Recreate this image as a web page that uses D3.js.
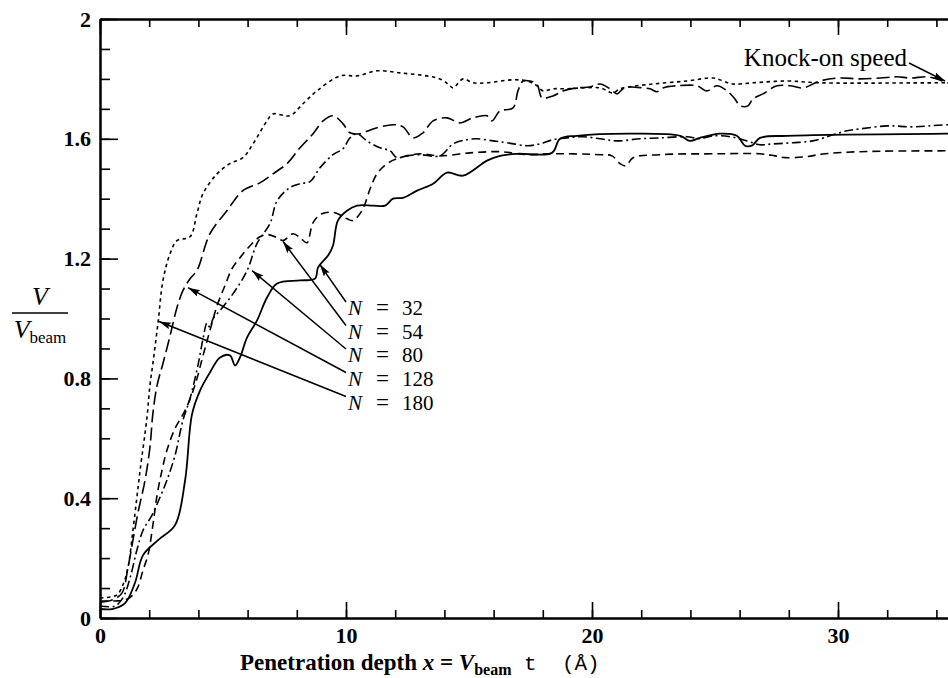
<!DOCTYPE html>
<html><head><meta charset="utf-8">
<script src="https://cdn.jsdelivr.net/npm/d3@7"></script>
<style>body{margin:0;background:#fff}svg{display:block}</style>
</head><body><svg id="c" width="948" height="678"></svg>
<script>
// ---------- data ----------
const xMajorTicks = [0, 10, 20, 30, 40];
const xTickLabels = ["0", "10", "20", "30", ""];
const xMinorTicks = [0,2,4,6,8,10,12,14,16,18,20,22,24,26,28,30,32,34,36,38,40];
const yMajorTicks = [0, 0.4, 0.8, 1.2, 1.6, 2];
const yTickLabels = ["0", "0.4", "0.8", "1.2", "1.6", "2"];
const yMinorTicks = [0,0.1,0.2,0.3,0.4,0.5,0.6,0.7,0.8,0.9,1,1.1,1.2,1.3,1.4,1.5,1.6,1.7,1.8,1.9,2];
const seriesLabels = ["32", "54", "80", "128", "180"];

const n32 = [[0,0.03],[0.49,0.03],[1.02,0.05],[1.42,0.117],[1.75,0.21],[2.36,0.26],[3.05,0.31],[3.46,0.46],[3.74,0.68],[4.07,0.76],[4.47,0.82],[4.88,0.87],[5.28,0.877],[5.49,0.843],[5.69,0.87],[5.98,0.937],[6.38,0.993],[6.79,1.07],[7.2,1.117],[8.13,1.127],[8.74,1.133],[8.86,1.17],[9.02,1.187],[9.27,1.21],[9.47,1.243],[9.67,1.327],[10.04,1.36],[10.45,1.377],[11.1,1.377],[11.59,1.377],[11.91,1.4],[12.32,1.403],[12.89,1.427],[13.54,1.45],[14.11,1.487],[14.76,1.477],[15.73,1.527],[16.26,1.543],[16.95,1.55],[18.37,1.553],[18.7,1.6],[19.39,1.61],[21.54,1.617],[23.58,1.61],[23.98,1.593],[24.39,1.603],[25.2,1.617],[25.89,1.61],[26.22,1.577],[26.5,1.577],[26.83,1.603],[27.93,1.61],[34.47,1.617],[40,1.617]];

const n54 = [[0,0.057],[0.61,0.057],[1.02,0.06],[1.34,0.077],[1.54,0.103],[1.75,0.16],[1.95,0.21],[2.15,0.31],[2.32,0.41],[2.52,0.493],[2.72,0.56],[3.05,0.633],[3.46,0.693],[3.86,0.777],[4.19,0.877],[4.47,0.96],[4.76,1.043],[5.08,1.11],[5.37,1.167],[5.69,1.203],[6.1,1.243],[6.5,1.273],[6.83,1.28],[7.2,1.27],[7.44,1.26],[7.85,1.283],[8.13,1.27],[8.41,1.253],[8.66,1.32],[9.02,1.35],[9.55,1.353],[10.04,1.333],[10.28,1.327],[10.65,1.36],[10.98,1.433],[11.26,1.483],[11.67,1.517],[12.2,1.537],[13.01,1.55],[13.82,1.543],[15.04,1.553],[16.26,1.557],[17.36,1.547],[18.29,1.55],[20.33,1.547],[20.81,1.543],[21.14,1.517],[21.38,1.51],[21.67,1.537],[22.76,1.547],[25.2,1.55],[26.83,1.55],[27.44,1.543],[27.85,1.537],[28.66,1.54],[29.47,1.55],[30.89,1.557],[34.47,1.56],[40,1.56]];

const n80 = [[0,0.04],[0.61,0.04],[0.93,0.067],[1.22,0.133],[1.5,0.227],[1.75,0.293],[2.11,0.343],[2.44,0.403],[2.72,0.46],[3.05,0.543],[3.37,0.66],[3.66,0.733],[3.98,0.843],[4.19,0.933],[4.35,0.985],[4.47,0.97],[4.6,1.0],[4.88,1.027],[5.41,1.083],[5.98,1.16],[6.38,1.25],[6.91,1.317],[7.2,1.393],[7.72,1.437],[8.13,1.45],[8.54,1.457],[8.94,1.503],[9.47,1.547],[9.88,1.567],[10.16,1.603],[10.45,1.617],[10.85,1.593],[11.38,1.57],[11.79,1.56],[12.07,1.537],[12.48,1.543],[13.01,1.547],[13.82,1.543],[14.35,1.583],[14.92,1.597],[15.33,1.6],[15.98,1.593],[16.54,1.587],[17.36,1.577],[17.89,1.583],[18.41,1.597],[18.98,1.603],[19.63,1.607],[20.33,1.6],[21.02,1.593],[21.95,1.6],[22.76,1.603],[23.86,1.607],[24.39,1.6],[24.92,1.61],[25.61,1.607],[26.3,1.593],[26.83,1.58],[27.36,1.583],[28.17,1.587],[28.98,1.593],[29.67,1.61],[30.37,1.627],[30.89,1.633],[31.99,1.643],[33.05,1.64],[34.47,1.647],[40,1.65]];

const n128 = [[0,0.053],[0.49,0.06],[0.89,0.083],[1.14,0.17],[1.34,0.26],[1.54,0.35],[1.83,0.46],[2.03,0.57],[2.15,0.683],[2.32,0.777],[2.56,0.85],[2.85,0.943],[3.13,1.037],[3.37,1.093],[3.66,1.133],[3.94,1.16],[4.47,1.283],[5.16,1.36],[5.81,1.427],[6.5,1.453],[7.03,1.483],[7.6,1.517],[8.13,1.57],[8.66,1.617],[9.07,1.66],[9.47,1.677],[9.88,1.65],[10.16,1.62],[10.57,1.617],[11.1,1.633],[11.91,1.647],[12.32,1.64],[12.72,1.603],[13.13,1.62],[13.54,1.66],[14.11,1.67],[14.63,1.653],[15.16,1.67],[15.73,1.677],[15.93,1.66],[16.26,1.693],[16.79,1.703],[16.99,1.76],[17.2,1.793],[17.48,1.793],[17.76,1.783],[17.97,1.737],[18.41,1.743],[18.82,1.76],[19.39,1.77],[19.92,1.773],[20.33,1.783],[20.73,1.767],[21.02,1.75],[21.26,1.767],[21.54,1.773],[22.07,1.77],[22.36,1.767],[22.64,1.757],[22.89,1.77],[23.46,1.777],[24.27,1.777],[24.67,1.76],[25.08,1.777],[25.49,1.76],[25.81,1.733],[26.02,1.71],[26.34,1.71],[26.54,1.733],[26.95,1.75],[27.52,1.777],[28.05,1.777],[28.58,1.77],[29.27,1.793],[30.08,1.803],[30.89,1.8],[31.71,1.803],[32.4,1.807],[32.93,1.803],[33.62,1.807],[34.02,1.8],[34.47,1.787],[40,1.79]];

const n180 = [[0,0.067],[0.41,0.07],[0.69,0.077],[0.93,0.11],[1.14,0.17],[1.34,0.293],[1.5,0.403],[1.63,0.493],[1.91,0.67],[2.03,0.777],[2.15,0.85],[2.36,0.987],[2.56,1.127],[2.85,1.217],[3.13,1.26],[3.66,1.273],[3.94,1.35],[4.19,1.417],[4.76,1.483],[5.28,1.517],[5.81,1.537],[6.22,1.583],[6.79,1.66],[7.03,1.683],[7.72,1.677],[8.25,1.717],[8.82,1.76],[9.76,1.81],[10.45,1.81],[11.26,1.827],[12.2,1.82],[13.29,1.81],[13.82,1.8],[14.15,1.783],[14.35,1.77],[14.76,1.8],[15.16,1.787],[15.73,1.787],[16.79,1.797],[17.36,1.793],[17.76,1.777],[18.01,1.76],[18.41,1.767],[18.98,1.767],[19.63,1.77],[20.33,1.77],[20.85,1.753],[21.14,1.767],[22.48,1.783],[23.86,1.793],[24.92,1.803],[25.33,1.793],[25.73,1.783],[26.54,1.787],[27.93,1.793],[29.27,1.787],[34.47,1.787],[40,1.787]];

const seriesData = [n32, n54, n80, n128, n180];
// arrow tip locations (data units) for each N label
const arrowTips = [[8.94,1.18],[7.44,1.257],[6.18,1.16],[3.58,1.103],[2.4,0.99]];
const knockTip = [34.35, 1.793];

// ---------- drawing ----------
const svg = d3.select("#c");
const x = d3.scaleLinear().domain([0, 40]).range([100, 1084]);
const y = d3.scaleLinear().domain([0, 2]).range([618, 19]);
const serif = "'Liberation Serif','Times New Roman',serif";
const mono = "'Liberation Mono','DejaVu Sans Mono',monospace";
const dashes = [null, "8,5", "9,3.5,2,3.5", "13,5", "3.5,3.5"];
const widths = [1.8, 1.6, 1.6, 1.6, 1.6];

const defs = svg.append("defs");
defs.append("clipPath").attr("id","clip").append("rect")
  .attr("x",100).attr("y",19).attr("width",984).attr("height",599);
defs.append("marker").attr("id","arr").attr("markerUnits","userSpaceOnUse")
  .attr("markerWidth",12).attr("markerHeight",8).attr("refX",12).attr("refY",3.5)
  .attr("orient","auto")
  .append("path").attr("d","M0,0 L12,3.5 L0,7 L2,3.5 Z").attr("fill","#000");

function styleAxis(g){
  g.select(".domain").attr("stroke","#000").attr("stroke-width",2);
  g.selectAll(".tick line").attr("stroke","#000").attr("stroke-width",1.6);
}
// bottom
svg.append("g").attr("transform","translate(0,618)")
  .call(d3.axisBottom(x).tickValues(xMinorTicks).tickSizeInner(-8).tickSizeOuter(0).tickFormat(""))
  .call(styleAxis);
const bMaj = svg.append("g").attr("transform","translate(0,618)")
  .call(d3.axisBottom(x).tickValues(xMajorTicks).tickSizeInner(-16).tickSizeOuter(0).tickPadding(9)
     .tickFormat((d,i)=>xTickLabels[i]))
  .call(styleAxis);
bMaj.selectAll("text").attr("font-family",serif).attr("font-size",22).attr("font-weight","bold").attr("fill","#000");
// top
svg.append("g").attr("transform","translate(0,19)")
  .call(d3.axisTop(x).tickValues(xMinorTicks).tickSizeInner(-8).tickSizeOuter(0).tickFormat(""))
  .call(styleAxis);
svg.append("g").attr("transform","translate(0,19)")
  .call(d3.axisTop(x).tickValues(xMajorTicks).tickSizeInner(-16).tickSizeOuter(0).tickFormat(""))
  .call(styleAxis);
// left
svg.append("g").attr("transform","translate(100,0)")
  .call(d3.axisLeft(y).tickValues(yMinorTicks).tickSizeInner(-10).tickSizeOuter(0).tickFormat(""))
  .call(styleAxis);
const lMaj = svg.append("g").attr("transform","translate(100,0)")
  .call(d3.axisLeft(y).tickValues(yMajorTicks).tickSizeInner(-18).tickSizeOuter(0).tickPadding(9)
     .tickFormat((d,i)=>yTickLabels[i]))
  .call(styleAxis);
lMaj.selectAll("text").attr("font-family",serif).attr("font-size",22).attr("font-weight","bold").attr("fill","#000");
// right (outside view)
svg.append("g").attr("transform","translate(1084,0)")
  .call(d3.axisRight(y).tickValues(yMinorTicks).tickSizeInner(-10).tickSizeOuter(0).tickFormat(""))
  .call(styleAxis);

// curves
const line = d3.line().x(d=>x(d[0])).y(d=>y(d[1])).curve(d3.curveCatmullRom.alpha(0.5));
const plot = svg.append("g").attr("clip-path","url(#clip)");
seriesData.forEach((s,i)=>{
  plot.append("path").datum(s).attr("d",line).attr("fill","none")
    .attr("stroke","#000").attr("stroke-width",widths[i])
    .attr("stroke-dasharray",dashes[i]).attr("stroke-linejoin","round");
});

// N labels with arrows
const labelX = 348;
const labelBase = [315, 338.5, 362, 385.5, 409.5];
seriesLabels.forEach((lab,i)=>{
  const bx = labelBase[i];
  svg.append("line").attr("x1",labelX-2).attr("y1",bx-13)
    .attr("x2",x(arrowTips[i][0])).attr("y2",y(arrowTips[i][1]))
    .attr("stroke","#000").attr("stroke-width",1.5).attr("marker-end","url(#arr)");
  const t = svg.append("text").attr("y",bx)
    .attr("font-family",serif).attr("font-size",21).attr("fill","#000");
  t.append("tspan").attr("x",labelX).attr("font-style","italic").text("N");
  t.append("tspan").attr("x",labelX+28).attr("font-size",23).text("=");
  t.append("tspan").attr("x",labelX+54).text(lab);
});

// Knock-on speed
svg.append("text").attr("x",907).attr("y",66).attr("text-anchor","end")
  .attr("font-family",serif).attr("font-size",25).attr("fill","#000").text("Knock-on speed");
svg.append("line").attr("x1",909).attr("y1",63).attr("x2",x(knockTip[0])).attr("y2",y(knockTip[1]))
  .attr("stroke","#000").attr("stroke-width",1.5).attr("marker-end","url(#arr)");

// y label (fraction)
svg.append("text").attr("x",40).attr("y",305).attr("text-anchor","middle")
  .attr("font-family",serif).attr("font-size",26).attr("font-style","italic").text("V");
svg.append("line").attr("x1",12).attr("x2",68).attr("y1",313).attr("y2",313)
  .attr("stroke","#000").attr("stroke-width",1.6);
const yl = svg.append("text").attr("x",40).attr("y",338).attr("text-anchor","middle")
  .attr("font-family",serif).attr("font-size",26);
yl.append("tspan").attr("font-style","italic").text("V");
yl.append("tspan").attr("font-size",17).attr("dy",5).text("beam");

// x title
const xt = svg.append("text").attr("x",240).attr("y",670)
  .attr("font-family",serif).attr("font-size",23).attr("font-weight","bold").attr("fill","#000");
xt.append("tspan").text("Penetration depth ");
xt.append("tspan").attr("font-style","italic").text("x");
xt.append("tspan").text(" = ");
xt.append("tspan").attr("font-style","italic").text("V");
xt.append("tspan").attr("font-size",16).attr("dy",5).text("beam");
xt.append("tspan").attr("dy",-5).attr("font-family",mono)
  .attr("font-weight","normal").attr("font-size",21).text("\u00a0t\u00a0\u00a0(\u00c5)");
</script></body></html>
